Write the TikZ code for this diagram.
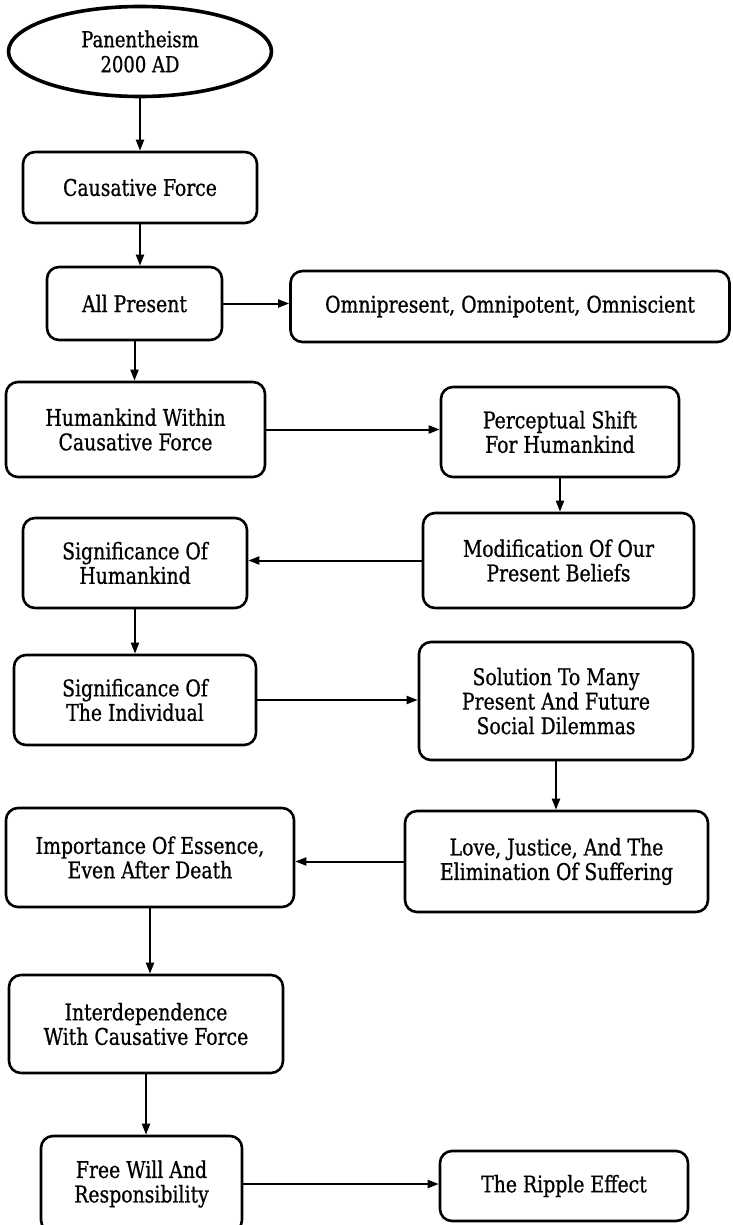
\documentclass[tikz,border=0pt]{standalone}
\usepackage{fontspec}
\setmainfont[FakeStretch=0.91,FakeBold=0.7]{DejaVu Serif Condensed}
\usetikzlibrary{arrows.meta,shapes.geometric}
\begin{document}
\begin{tikzpicture}[x=1pt,y=-1pt,
  box/.style={draw, line width=2.6pt, rounded corners=12pt, align=center, inner sep=0pt,
    font=\fontsize{23}{24.5}\selectfont},
  oval/.style={ellipse, draw, line width=3.6pt, align=center, inner sep=0pt,
    font=\fontsize{22}{25}\selectfont},
  arr/.style={line width=2pt, -{Triangle[length=11pt,width=8pt]}}]
\clip (0,0) rectangle (732,1225);
\fill[white] (0,0) rectangle (732,1225);
\node[oval, minimum width=263pt, minimum height=90pt] (pa) at (140,51.5) {Panentheism\\2000 AD};
\node[box, minimum width=234pt, minimum height=71pt] (cf) at (140,187.5) {Causative Force};
\node[box, minimum width=175pt, minimum height=73pt] (ap) at (134.5,303.5) {All Present};
\node[box, minimum width=439pt, minimum height=71pt] (om) at (510,306.5) {Omnipresent, Omnipotent, Omniscient};
\node[box, minimum width=259pt, minimum height=95pt] (hk) at (135.5,429.5) {Humankind Within\\Causative Force};
\node[box, minimum width=238pt, minimum height=90pt] (ps) at (560,432) {Perceptual Shift\\For Humankind};
\node[box, minimum width=271pt, minimum height=95pt] (mo) at (558.5,560.5) {Modification Of Our\\Present Beliefs};
\node[box, minimum width=224pt, minimum height=90pt] (sh) at (135,563) {Significance Of\\Humankind};
\node[box, minimum width=242pt, minimum height=90pt] (si) at (135,700) {Significance Of\\The Individual};
\node[box, minimum width=274pt, minimum height=118pt] (so) at (556,701) {Solution To Many\\Present And Future\\Social Dilemmas};
\node[box, minimum width=303pt, minimum height=101pt] (lo) at (556.5,861.5) {Love, Justice, And The\\Elimination Of Suffering};
\node[box, minimum width=288pt, minimum height=99pt] (im) at (150,857.5) {Importance Of Essence,\\Even After Death};
\node[box, minimum width=274pt, minimum height=98pt] (in) at (146,1024) {Interdependence\\With Causative Force};
\node[box, minimum width=201pt, minimum height=96pt] (fw) at (141.5,1184) {Free Will And\\Responsibility};
\node[box, minimum width=248pt, minimum height=70pt] (rp) at (564,1186) {The Ripple Effect};
\draw[arr] (pa) -- (cf);
\draw[arr] (cf.south) -- (cf.south |- ap.north);
\draw[arr] (ap.east) -- (ap.east -| om.west);
\draw[arr] (ap.south) -- (ap.south |- hk.north);
\draw[arr] (hk.east) -- (hk.east -| ps.west);
\draw[arr] (ps.south) -- (ps.south |- mo.north);
\draw[arr] (mo.west) -- (mo.west -| sh.east);
\draw[arr] (sh.south) -- (sh.south |- si.north);
\draw[arr] (si.east) -- (si.east -| so.west);
\draw[arr] (so.south) -- (so.south |- lo.north);
\draw[arr] (lo.west) -- (lo.west -| im.east);
\draw[arr] (im.south) -- (im.south |- in.north);
\draw[arr] (in.south) -- (in.south |- fw.north);
\draw[arr] (fw.east) -- (fw.east -| rp.west);
\end{tikzpicture}
\end{document}
